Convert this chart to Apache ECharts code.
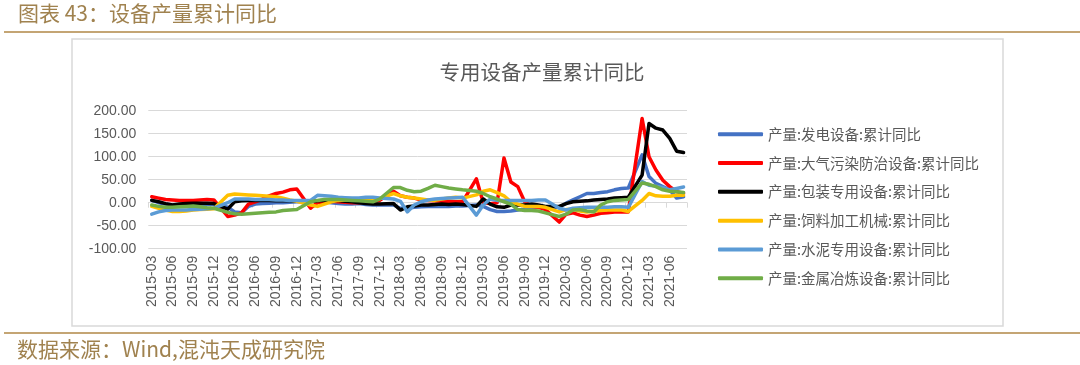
<!DOCTYPE html>
<html><head><meta charset="utf-8">
<script src="https://cdn.jsdelivr.net/npm/echarts@6/dist/echarts.min.js"></script>
<style>html,body{margin:0;padding:0;background:#fff}#c{width:1080px;height:365px}</style>
</head><body><div id="c"></div>
<script>
const categories = [
 '2015-03','2015-04','2015-05','2015-06','2015-07','2015-08','2015-09','2015-10','2015-11','2015-12',
 '2016-01','2016-02','2016-03','2016-04','2016-05','2016-06','2016-07','2016-08','2016-09','2016-10','2016-11','2016-12',
 '2017-01','2017-02','2017-03','2017-04','2017-05','2017-06','2017-07','2017-08','2017-09','2017-10','2017-11','2017-12',
 '2018-01','2018-02','2018-03','2018-04','2018-05','2018-06','2018-07','2018-08','2018-09','2018-10','2018-11','2018-12',
 '2019-01','2019-02','2019-03','2019-04','2019-05','2019-06','2019-07','2019-08','2019-09','2019-10','2019-11','2019-12',
 '2020-01','2020-02','2020-03','2020-04','2020-05','2020-06','2020-07','2020-08','2020-09','2020-10','2020-11','2020-12',
 '2021-01','2021-02','2021-03','2021-04','2021-05','2021-06','2021-07','2021-08'
];
const yTicks = [-100, -50, 0, 50, 100, 150, 200];

const powerGen = [5,0,-3,-5,-5,-5,-5,-4,-4,-3,
 null,-10,-20,-22,-8,-3,-2,-1,0,0,1,2,
 null,3,4,2,0,-2,-3,-3,-2,-4,-5,-5,
 null,-5,-12,-12,-10,-9,-8,-8,-8,-8,-7,-7,
 null,-5,-8,-15,-19,-19,-18,-16,-14,-12,-10,-10,
 null,-10,-1,6,13,20,20,22,24,28,31,32,
 null,104,57,42,35,28,10,13];
const airPollution = [13,10,7,6,5,5,5,6,7,6,
 null,-30,-27,-22,-3,2,8,15,20,23,28,30,
 null,-12,0,2,3,2,1,0,0,2,3,5,
 null,25,15,12,10,6,5,4,3,3,2,2,
 null,52,0,-2,0,97,45,35,2,-8,-10,-15,
 null,-42,-25,-22,-27,-30,-27,-23,-22,-20,-20,-20,
 null,183,100,71,49,35,24,20];
const packaging = [5,2,-2,-5,-3,-2,-1,-1,-1,-2,
 null,-14,2,4,5,5,5,5,4,4,4,3,
 null,2,4,5,5,5,3,2,0,-2,-3,-3,
 null,-2,-16,-9,-7,-5,-5,-4,-3,-4,-3,-4,
 null,-8,8,-3,-9,-10,-5,-5,-5,-3,-5,-8,
 null,-8,-2,2,3,4,6,7,8,10,11,12,
 null,60,172,162,158,140,112,109];
const feedMachinery = [-8,-12,-16,-19,-19,-18,-16,-15,-14,-13,
 null,16,19,18,17,16,15,14,13,10,6,3,
 null,-5,-8,-3,2,5,6,6,7,8,8,9,
 null,20,15,12,10,8,6,5,8,10,12,10,
 null,17,25,28,22,15,2,-3,-8,-8,-8,-10,
 null,-20,-15,-15,-18,-20,-18,-17,-16,-16,-16,-19,
 null,5,20,15,14,14,16,16];
const cement = [-25,-20,-17,-16,-16,-16,-15,-14,-13,-12,
 null,0,8,8,8,7,7,7,6,6,5,5,
 null,5,16,15,14,12,11,10,10,12,12,10,
 null,8,3,-20,-5,2,6,8,9,10,11,12,
 null,-27,-5,8,5,5,5,5,5,5,6,6,
 null,-12,-16,-12,-11,-10,-10,-10,-10,-9,-9,-10,
 null,46,38,36,33,28,31,34];
const metallurgy = [-5,-8,-10,-10,-9,-8,-7,-9,-11,-12,
 null,-21,-24,-25,-24,-23,-22,-21,-20,-17,-16,-15,
 null,2,5,7,7,7,6,5,4,3,2,8,
 null,33,33,27,24,25,31,38,35,32,30,28,
 null,25,20,13,8,2,-3,-15,-17,-17,-18,-22,
 null,-30,-25,-16,-15,-18,-20,-5,2,5,6,7,
 null,43,40,35,28,25,24,22];

const seriesNames = ['产量:发电设备:累计同比','产量:大气污染防治设备:累计同比','产量:包装专用设备:累计同比','产量:饲料加工机械:累计同比','产量:水泥专用设备:累计同比','产量:金属冶炼设备:累计同比'];
const seriesData = [powerGen, airPollution, packaging, feedMachinery, cement, metallurgy];
const seriesColors = ['#4472C4','#FF0000','#000000','#FFC000','#5B9BD5','#70AD47'];

const chart = echarts.init(document.getElementById('c'), null, {renderer:'canvas'});
const gold = '#a0824f';
const fontLatin = '"Liberation Sans", Arial, "Noto Sans CJK SC", sans-serif';
const fontCJK = '"Noto Sans CJK SC", "Liberation Sans", sans-serif';

chart.setOption({
  animation: false,
  backgroundColor: '#ffffff',
  title: {
    text: '专用设备产量累计同比',
    left: 537, top: 57, textAlign: 'center',
    textStyle: {fontFamily: fontCJK, fontSize: 20.5, fontWeight: 'normal', color: '#595959'}
  },
  graphic: [
    {type:'text', left: 18, top: 3, style:{text:'图表 43：设备产量累计同比', fontFamily: fontCJK, fontSize: 21, fill: gold}},
    {type:'rect', shape:{x:4, y:31, width:1076, height:2}, style:{fill:'#c4a574'}},
    {type:'rect', shape:{x:72, y:39, width:931, height:287}, style:{fill:'none', stroke:'#d9d9d9', lineWidth:1.5}},
    {type:'rect', shape:{x:4, y:332, width:1076, height:2}, style:{fill:'#c4a574'}},
    {type:'text', left: 17, top: 339, style:{text:'数据来源：Wind,混沌天成研究院', fontFamily: fontCJK, fontSize: 21, fill: gold}}
  ],
  legend: {
    orient: 'vertical', left: 713, top: 122, padding: 5,
    itemWidth: 45, itemHeight: 4, itemGap: 14.3, icon: 'roundRect',
    textStyle: {fontFamily: fontCJK, fontSize: 14.5, color: '#595959', lineHeight: 14},
    data: seriesNames
  },
  grid: {left: 148.3, right: 393, top: 110.7, bottom: 116.3, containLabel: false},
  xAxis: [
    {
      type: 'category', data: categories, boundaryGap: true, position: 'bottom',
      axisLine: {show: false, onZero: false}, axisTick: {show: false},
      axisLabel: {interval: 2, rotate: 90, margin: 7, color: '#595959', fontSize: 14, fontFamily: fontLatin},
      splitLine: {show: false}
    },
    {
      type: 'category', data: categories, boundaryGap: true, position: 'top',
      axisLine: {show: true, onZero: true, lineStyle: {color: '#d9d9d9', width: 1}},
      axisTick: {show: true, inside: true, interval: 2, length: 5, lineStyle: {color: '#d9d9d9'}},
      axisLabel: {show: false}, splitLine: {show: false}
    }
  ],
  yAxis: {
    type: 'value', min: yTicks[0], max: yTicks[yTicks.length-1], interval: 50,
    axisLine: {show: false}, axisTick: {show: false},
    axisLabel: {formatter: v => v.toFixed(2), color: '#595959', fontSize: 14, fontFamily: fontLatin, margin: 12},
    splitLine: {lineStyle: {color: '#d9d9d9', width: 1}}
  },
  series: seriesNames.map((name, k) => ({
    name: name, type: 'line', xAxisIndex: 0, data: seriesData[k],
    connectNulls: true, showSymbol: false, symbol: 'none',
    itemStyle: {color: seriesColors[k]},
    lineStyle: {color: seriesColors[k], width: 3.5, join: 'round', cap: 'round'}
  }))
});
</script></body></html>
